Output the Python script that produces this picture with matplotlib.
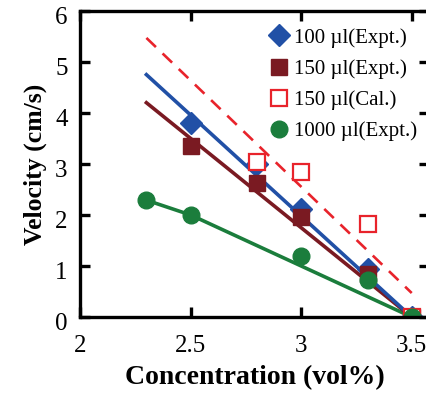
import matplotlib.pyplot as plt
from matplotlib.transforms import ScaledTranslation

plt.rcParams['font.family'] = ['Liberation Serif', 'DejaVu Serif']

# measured points
conc_100 = [2.5, 2.8, 3.0, 3.3, 3.5]
vel_100 = [3.8, 3.0, 2.12, 0.95, 0.0]
conc_150 = [2.5, 2.8, 3.0, 3.3, 3.5]
vel_150 = [3.35, 2.63, 1.96, 0.85, 0.0]
conc_cal = [2.8, 3.0, 3.3, 3.5]
vel_cal = [3.03, 2.84, 1.82, 0.0]
conc_1000 = [2.3, 2.5, 3.0, 3.3, 3.5]
vel_1000 = [2.29, 2.0, 1.2, 0.72, 0.0]

# fitted lines
fit_x = [2.3, 3.5]
fit_100 = [4.75, 0.0]
fit_150 = [4.2, 0.0]
fit_cal = [5.47, 0.47]
fit_1000_x = [2.3, 2.5, 3.5]
fit_1000 = [2.29, 2.0, 0.0]

blue = '#2150a6'
dred = '#7a1a22'
red = '#e8232b'
green = '#1b7d3c'

fig = plt.figure(figsize=(4.26, 3.96), dpi=100)
ax = fig.add_axes([0.188, 0.1995, 0.82, 0.773])

ax.plot(fit_x, fit_cal, '--', color=red, lw=1.9, dashes=(5, 3.5))
ax.plot(fit_1000_x, fit_1000, '-', color=green, lw=2.6)
ax.plot(fit_x, fit_150, '-', color=dred, lw=2.6)
ax.plot(fit_x, fit_100, '-', color=blue, lw=2.6)

ax.plot(conc_100, vel_100, 'D', color=blue, ms=11, ls='none', label='100 µl(Expt.)')
ax.plot(conc_150, vel_150, 's', color=dred, ms=12, ls='none', label='150 µl(Expt.)')
ax.plot(conc_cal, vel_cal, 's', mfc='white', mec=red, mew=1.6, ms=11, ls='none',
        label='150 µl(Cal.)')
ax.plot(conc_1000, vel_1000, 'o', color=green, ms=12, ls='none', label='1000 µl(Expt.)')

ax.set_xlim(2, 3.58)
ax.set_ylim(0, 6)
ax.set_xticks([2, 2.5, 3, 3.5])
ax.set_xticklabels(['2', '2.5', '3', '3.5'])
ax.set_yticks(range(7))

for s in ax.spines.values():
    s.set_linewidth(2.4)
ax.tick_params(direction='in', length=7, width=2.4, labelsize=18,
               top=True, right=True, pad=13)
ax.tick_params(axis='y', pad=9)

# y tick labels sit a little below their ticks in the original
shift = ScaledTranslation(0, -0.05, fig.dpi_scale_trans)
for lbl in ax.get_yticklabels():
    lbl.set_transform(lbl.get_transform() + shift)

# keep the last x label inside the canvas
ax.get_xticklabels()[-1].set_horizontalalignment('right')
ax.get_xticklabels()[-1].set_transform(
    ax.get_xticklabels()[-1].get_transform() + ScaledTranslation(0.15, 0, fig.dpi_scale_trans))

ax.set_xlabel('Concentration (vol%)', fontsize=20, fontweight='bold', labelpad=6)
ax.set_ylabel('Velocity (cm/s)', fontsize=18.5, fontweight='bold', labelpad=6)

ax.legend(loc='upper right', bbox_to_anchor=(1.0, 0.985), frameon=False, fontsize=15,
          handletextpad=0.1, borderaxespad=0.2, labelspacing=0.55, handlelength=1.2)

fig.savefig('out.png', dpi=100)
